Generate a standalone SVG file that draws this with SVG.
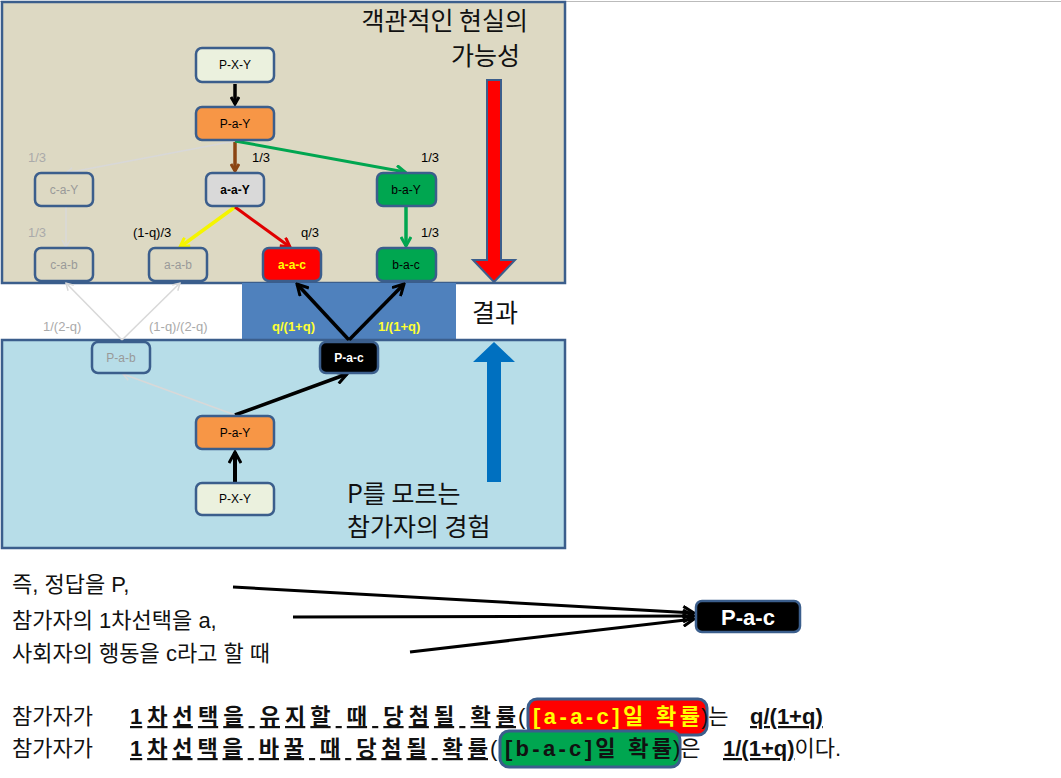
<svg xmlns="http://www.w3.org/2000/svg" width="1061" height="778" viewBox="0 0 1061 778">
<style>
.n rect{stroke:#3b5e8c;stroke-width:2.5}
.n text{font-family:"Liberation Sans","Noto Sans CJK KR",sans-serif;font-size:12px;text-anchor:middle;dominant-baseline:central}
.lb{font-family:"Liberation Sans",sans-serif;font-size:13px}
.big{font-family:"Noto Sans CJK KR","Liberation Sans",sans-serif;font-size:25px;fill:#111}
.t{font-family:"Liberation Sans","Noto Sans CJK KR",sans-serif;font-size:22px;fill:#111}
.b{font-weight:bold;text-decoration:underline}
</style>
<defs>
<marker id="mk" markerWidth="10" markerHeight="10" refX="8" refY="5" orient="auto" markerUnits="userSpaceOnUse"><path d="M1,1 L8,5 L1,9" fill="none" stroke="#000" stroke-width="3"/></marker>
<marker id="mbr" markerWidth="10" markerHeight="10" refX="8" refY="5" orient="auto" markerUnits="userSpaceOnUse"><path d="M1,1 L8,5 L1,9" fill="none" stroke="#8b4513" stroke-width="3"/></marker>
<marker id="mg" markerWidth="12" markerHeight="12" refX="10" refY="6" orient="auto" markerUnits="userSpaceOnUse"><path d="M1,1 L10,6 L1,11" fill="none" stroke="#00a650" stroke-width="3"/></marker>
<marker id="mr" markerWidth="12" markerHeight="12" refX="10" refY="6" orient="auto" markerUnits="userSpaceOnUse"><path d="M1,1 L10,6 L1,11" fill="none" stroke="#e00000" stroke-width="3"/></marker>
<marker id="my" markerWidth="12" markerHeight="12" refX="10" refY="6" orient="auto" markerUnits="userSpaceOnUse"><path d="M1,1 L10,6 L1,11" fill="none" stroke="#f5f500" stroke-width="3"/></marker>
<marker id="ml" markerWidth="10" markerHeight="10" refX="8" refY="5" orient="auto" markerUnits="userSpaceOnUse"><path d="M1,1 L8,5 L1,9" fill="none" stroke="#d8d8d8" stroke-width="1.5"/></marker>
<marker id="mbig" markerWidth="14" markerHeight="14" refX="12" refY="7" orient="auto" markerUnits="userSpaceOnUse"><path d="M1,1 L12,7 L1,13" fill="none" stroke="#000" stroke-width="3"/></marker>
</defs>
<rect width="1061" height="778" fill="#fff"/>
<line x1="0" y1="1.5" x2="1061" y2="1.5" stroke="#bbb"/>
<rect x="2" y="2" width="563" height="281" fill="#ddd9c3" stroke="#3b5e8c" stroke-width="2.5"/>
<rect x="242" y="283" width="214" height="57" fill="#4f81bd"/>
<rect x="2" y="340" width="563" height="208" fill="#b7dde8" stroke="#3b5e8c" stroke-width="2.5"/>
<polygon points="487,80 501,80 501,260 515,260 494,282 473,260 487,260" fill="#ff0000" stroke="#3b5e8c" stroke-width="2"/>
<polygon points="487,482 501,482 501,362 515,362 494,342 473,362 487,362" fill="#0070c0"/>
<text class="big" x="528" y="30" text-anchor="end">객관적인 현실의</text>
<text class="big" x="520" y="65" text-anchor="end">가능성</text>
<text class="big" x="472" y="322">결과</text>
<text class="big" x="347" y="503">P를 모르는</text>
<text class="big" x="347" y="536">참가자의 경험</text>
<g id="connectors" fill="none">
<line x1="235" y1="84" x2="235" y2="104" stroke="#000" stroke-width="3.5" marker-end="url(#mk)"/>
<line x1="235" y1="141" x2="235" y2="171" stroke="#8b4513" stroke-width="3.5" marker-end="url(#mbr)"/>
<line x1="235" y1="141" x2="405" y2="172" stroke="#00a650" stroke-width="3" marker-end="url(#mg)"/>
<line x1="235" y1="141" x2="66" y2="173" stroke="#d8d8d8" stroke-width="1.5" marker-end="url(#ml)"/>
<line x1="66" y1="207" x2="66" y2="247" stroke="#d8d8d8" stroke-width="1.5" marker-end="url(#ml)"/>
<line x1="235" y1="207" x2="180" y2="247" stroke="#f5f500" stroke-width="3.5" marker-end="url(#my)"/>
<line x1="235" y1="207" x2="290" y2="247" stroke="#e00000" stroke-width="3" marker-end="url(#mr)"/>
<line x1="406" y1="207" x2="406" y2="246" stroke="#00a650" stroke-width="3.5" marker-end="url(#mg)"/>
<line x1="349" y1="340" x2="297" y2="284" stroke="#000" stroke-width="3.5" marker-end="url(#mbig)"/>
<line x1="349" y1="340" x2="404" y2="284" stroke="#000" stroke-width="3.5" marker-end="url(#mbig)"/>
<line x1="122" y1="340" x2="66" y2="283" stroke="#d8d8d8" stroke-width="1.5" marker-end="url(#ml)"/>
<line x1="122" y1="340" x2="180" y2="283" stroke="#d8d8d8" stroke-width="1.5" marker-end="url(#ml)"/>
<line x1="235" y1="415" x2="123" y2="374" stroke="#d8d8d8" stroke-width="1.5" marker-end="url(#ml)"/>
<line x1="235" y1="415" x2="347" y2="374" stroke="#000" stroke-width="3.5" marker-end="url(#mbig)"/>
<line x1="235" y1="482" x2="235" y2="452" stroke="#000" stroke-width="4" marker-end="url(#mbig)"/>
<line x1="233" y1="587" x2="694" y2="613" stroke="#000" stroke-width="3" marker-end="url(#mbig)"/>
<line x1="293" y1="617" x2="694" y2="616" stroke="#000" stroke-width="3" marker-end="url(#mbig)"/>
<line x1="410" y1="652" x2="694" y2="619" stroke="#000" stroke-width="3" marker-end="url(#mbig)"/>
</g>
<g class="lb">
<text x="28" y="162" fill="#aaa">1/3</text>
<text x="252" y="162">1/3</text>
<text x="421" y="162">1/3</text>
<text x="28" y="237" fill="#aaa">1/3</text>
<text x="133" y="237">(1-q)/3</text>
<text x="301" y="237">q/3</text>
<text x="421" y="237">1/3</text>
<text x="43" y="331" fill="#aaa">1/(2-q)</text>
<text x="149" y="331" fill="#aaa">(1-q)/(2-q)</text>
<text x="272" y="331" fill="#ffff33" font-weight="bold">q/(1+q)</text>
<text x="378" y="331" fill="#ffff33" font-weight="bold">1/(1+q)</text>
</g>
<g id="n1" class="n"><rect x="196" y="48" width="78" height="34" rx="6" fill="#ebf1de"/><text x="235" y="65">P-X-Y</text></g>
<g id="n2" class="n"><rect x="196" y="107" width="78" height="33" rx="6" fill="#f79646"/><text x="235" y="124">P-a-Y</text></g>
<g id="n3" class="n"><rect x="35" y="173" width="58" height="33" rx="6" fill="#ddd9c3"/><text x="64" y="190" fill="#999">c-a-Y</text></g>
<g id="n4" class="n"><rect x="206" y="173" width="58" height="33" rx="6" fill="#d9d9d9"/><text x="235" y="190" font-weight="bold">a-a-Y</text></g>
<g id="n5" class="n"><rect x="377" y="173" width="59" height="33" rx="6" fill="#00a650"/><text x="406" y="190">b-a-Y</text></g>
<g id="n6" class="n"><rect x="35" y="248" width="58" height="33" rx="6" fill="#ddd9c3"/><text x="64" y="265" fill="#999">c-a-b</text></g>
<g id="n7" class="n"><rect x="149" y="248" width="58" height="33" rx="6" fill="#ddd9c3"/><text x="178" y="265" fill="#999">a-a-b</text></g>
<g id="n8" class="n"><rect x="263" y="248" width="58" height="33" rx="6" fill="#ff0000"/><text x="292" y="265" fill="#ffff00" font-weight="bold">a-a-c</text></g>
<g id="n9" class="n"><rect x="377" y="248" width="59" height="33" rx="6" fill="#00a650"/><text x="406" y="265">b-a-c</text></g>
<g id="n10" class="n"><rect x="92" y="342" width="58" height="31" rx="6" fill="#b7dde8"/><text x="121" y="358" fill="#999">P-a-b</text></g>
<g id="n11" class="n"><rect x="320" y="342" width="58" height="31" rx="6" fill="#000"/><text x="349" y="358" fill="#fff" font-weight="bold">P-a-c</text></g>
<g id="n12" class="n"><rect x="196" y="416" width="78" height="33" rx="6" fill="#f79646"/><text x="235" y="433">P-a-Y</text></g>
<g id="n13" class="n"><rect x="196" y="483" width="78" height="32" rx="6" fill="#ebf1de"/><text x="235" y="499">P-X-Y</text></g>
<g id="n14" class="n"><rect x="696" y="601" width="104" height="31" rx="6" fill="#000"/><text x="748" y="617" fill="#fff" font-weight="bold" style="font-size:22px">P-a-c</text></g>
<text class="t" x="12" y="592">즉, 정답을 P,</text>
<text class="t" x="12" y="628">참가자의 1차선택을 a,</text>
<text class="t" x="12" y="661">사회자의 행동을 c라고 할 때</text>
<rect x="528" y="699" width="179" height="36" rx="9" fill="#ff0000" stroke="#3b5e8c" stroke-width="3"/>
<rect x="500" y="731" width="180" height="36" rx="9" fill="#00a650" stroke="#3b5e8c" stroke-width="3"/>
<text class="t" y="724"><tspan x="12">참가자가 </tspan><tspan x="130" class="b" textLength="386">1차선택을 유지할 때 당첨될 확률</tspan><tspan x="518">(</tspan><tspan x="533" fill="#ffff00" font-weight="bold" textLength="167">[a-a-c]일 확률</tspan><tspan x="701">)는 </tspan><tspan x="750" class="b">q/(1+q)</tspan></text>
<text class="t" y="756"><tspan x="12">참가자가 </tspan><tspan x="130" class="b" textLength="358">1차선택을 바꿀 때 당첨될 확률</tspan><tspan x="490">(</tspan><tspan x="505" font-weight="bold" textLength="167">[b-a-c]일 확률</tspan><tspan x="673">)은 </tspan><tspan x="723" class="b">1/(1+q)</tspan><tspan>이다.</tspan></text>
</svg>
